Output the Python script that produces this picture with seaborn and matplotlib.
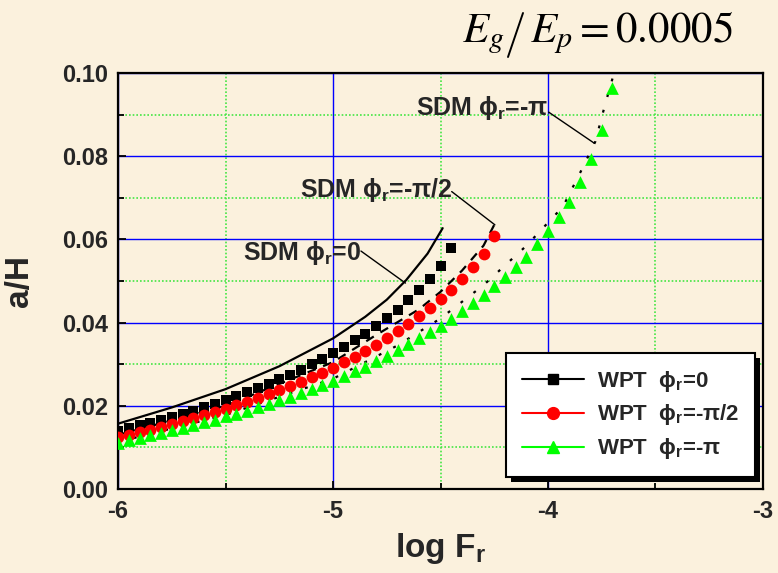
import matplotlib
matplotlib.use("Agg")
import matplotlib.pyplot as plt
import seaborn as sns
from matplotlib.lines import Line2D
from matplotlib.patches import Rectangle
from matplotlib.transforms import IdentityTransform
from matplotlib.ticker import MultipleLocator, FormatStrFormatter

# log Fr sampling shared by the WPT series (step 0.05)
log_fr = [-6.00, -5.95, -5.90, -5.85, -5.80, -5.75, -5.70, -5.65, -5.60, -5.55,
          -5.50, -5.45, -5.40, -5.35, -5.30, -5.25, -5.20, -5.15, -5.10, -5.05,
          -5.00, -4.95, -4.90, -4.85, -4.80, -4.75, -4.70, -4.65, -4.60, -4.55,
          -4.50, -4.45, -4.40, -4.35, -4.30, -4.25, -4.20, -4.15, -4.10, -4.05,
          -4.00, -3.95, -3.90, -3.85, -3.80, -3.75, -3.70]

# WPT results, a/H
wpt_phi0 = [0.0139, 0.0146, 0.0154, 0.0159, 0.0166, 0.0172, 0.0180, 0.0188, 0.0196, 0.0204,
            0.0213, 0.0224, 0.0232, 0.0242, 0.0252, 0.0264, 0.0275, 0.0287, 0.0300, 0.0313,
            0.0327, 0.0341, 0.0357, 0.0373, 0.0391, 0.0410, 0.0430, 0.0454, 0.0478, 0.0504,
            0.0537, 0.0580]
wpt_phi_half = [0.0126, 0.0131, 0.0138, 0.0143, 0.0150, 0.0156, 0.0163, 0.0171, 0.0179, 0.0185,
                0.0193, 0.0201, 0.0210, 0.0219, 0.0228, 0.0238, 0.0248, 0.0258, 0.0269, 0.0280,
                0.0292, 0.0305, 0.0318, 0.0332, 0.0347, 0.0363, 0.0379, 0.0397, 0.0415, 0.0434,
                0.0456, 0.0478, 0.0505, 0.0533, 0.0566, 0.0609]
wpt_phi_pi = [0.0111, 0.0118, 0.0123, 0.0129, 0.0135, 0.0141, 0.0147, 0.0153, 0.0160, 0.0167,
              0.0175, 0.0181, 0.0188, 0.0196, 0.0204, 0.0213, 0.0221, 0.0230, 0.0240, 0.0250,
              0.0260, 0.0272, 0.0283, 0.0294, 0.0307, 0.0320, 0.0334, 0.0348, 0.0362, 0.0377,
              0.0393, 0.0408, 0.0427, 0.0446, 0.0467, 0.0489, 0.0510, 0.0534, 0.0558, 0.0589,
              0.0620, 0.0653, 0.0691, 0.0737, 0.0793, 0.0863, 0.0965]

# SDM curves
sdm0_x = [-6.00, -5.75, -5.50, -5.25, -5.00, -4.85, -4.75, -4.66, -4.56, -4.49]
sdm0_y = [0.0157, 0.0196, 0.0240, 0.0295, 0.0362, 0.0414, 0.0455, 0.0502, 0.0566, 0.0627]
sdm_half_x = [-6.00, -5.50, -5.00, -4.80, -4.60, -4.50, -4.40, -4.30, -4.25]
sdm_half_y = [0.0130, 0.0200, 0.0305, 0.0370, 0.0432, 0.0474, 0.0525, 0.0585, 0.0635]
sdm_pi_x = [-6.00, -5.50, -5.00, -4.70, -4.50, -4.30, -4.10, -3.93, -3.84, -3.78, -3.735, -3.69]
sdm_pi_y = [0.0113, 0.0178, 0.0265, 0.0345, 0.0410, 0.0490, 0.0585, 0.0679, 0.0771, 0.0835, 0.0923, 0.1005]

BG = "#FBF1DD"
GREEN = "#00FF00"

sns.set_theme(style="white")
plt.rcParams["font.family"] = ["Liberation Sans", "DejaVu Sans"]
plt.rcParams["font.weight"] = "normal"
plt.rcParams["mathtext.fontset"] = "custom"
plt.rcParams["mathtext.rm"] = "Liberation Sans:bold"
plt.rcParams["mathtext.it"] = "Liberation Sans:bold"
plt.rcParams["mathtext.bf"] = "Liberation Sans:bold"
plt.rcParams["mathtext.sf"] = "Liberation Sans:bold"

fig = plt.figure(figsize=(7.78, 5.73), dpi=100, facecolor=BG)
ax = fig.add_axes([0.1517, 0.1466, 0.8290, 0.7260])
ax.set_facecolor(BG)

# SDM curves
sns.lineplot(x=sdm0_x, y=sdm0_y, color="black", lw=1.6, ax=ax, sort=False,
             estimator=None, zorder=2)
sns.lineplot(x=sdm_half_x, y=sdm_half_y, color="black", lw=1.6, ax=ax, sort=False,
             estimator=None, zorder=2, linestyle=(0, (4, 3.5)))
sns.lineplot(x=sdm_pi_x, y=sdm_pi_y, color="black", lw=1.6, ax=ax, sort=False,
             estimator=None, zorder=2, linestyle=(0, (1.3, 6)))

# WPT points
sns.scatterplot(x=log_fr[:len(wpt_phi0)], y=wpt_phi0, marker="s", color="black",
                s=58, linewidth=0, ax=ax, zorder=3)
sns.scatterplot(x=log_fr[:len(wpt_phi_half)], y=wpt_phi_half, marker="o", color="red",
                s=72, linewidth=0, ax=ax, zorder=3)
sns.scatterplot(x=log_fr[:len(wpt_phi_pi)], y=wpt_phi_pi, marker="^", color=GREEN,
                s=84, linewidth=0, ax=ax, zorder=3)

ax.set_xlim(-6, -3)
ax.set_ylim(0, 0.10)
ax.xaxis.set_major_locator(MultipleLocator(1))
ax.xaxis.set_minor_locator(MultipleLocator(0.5))
ax.yaxis.set_major_locator(MultipleLocator(0.02))
ax.yaxis.set_minor_locator(MultipleLocator(0.01))
ax.yaxis.set_major_formatter(FormatStrFormatter("%.2f"))
ax.xaxis.set_major_formatter(FormatStrFormatter("%d"))

ax.set_axisbelow(True)
ax.grid(which="major", color="blue", lw=1.0, ls="-")
ax.grid(which="minor", color="#44E644", lw=1.2, ls=(0, (1, 1.2)))

for sp in ax.spines.values():
    sp.set_color("black")
    sp.set_linewidth(1.6)

ax.tick_params(which="both", direction="in", bottom=True, left=True, top=False,
               right=False, color="black", width=1.3)
ax.tick_params(which="major", length=6)
ax.tick_params(which="minor", length=4.5)
ax.tick_params(axis="x", labelsize=17, pad=8)
ax.tick_params(axis="y", labelsize=17, pad=7)
fig.canvas.draw()
for lab in ax.get_xticklabels() + ax.get_yticklabels():
    lab.set_fontweight("bold")

ax.set_xlabel("log F$_r$", fontsize=24, fontweight="bold")
ax.set_ylabel("a/H", fontsize=24, fontweight="bold")
ax.xaxis.set_label_coords(0.5, -0.100)
ax.yaxis.set_label_coords(-0.128, 0.5)

# SDM labels with leader lines
ax.text(-5.421, 0.0551, r"SDM $\phi_r$=0", fontsize=18, fontweight="bold",
        ha="left", va="baseline")
ax.plot([-4.870, -4.663], [0.0572, 0.0495], color="black", lw=1.0)
ax.text(-5.153, 0.0703, r"SDM $\phi_r$=-$\pi$/2", fontsize=18, fontweight="bold",
        ha="left", va="baseline")
ax.plot([-4.448, -4.247], [0.0715, 0.0635], color="black", lw=1.0)
ax.text(-4.614, 0.0899, r"SDM $\phi_r$=-$\pi$", fontsize=18, fontweight="bold",
        ha="left", va="baseline")
ax.plot([-3.997, -3.784], [0.0906, 0.0831], color="black", lw=1.0)

# Ratio annotation: E_g / E_p = 0.0005 with a tall thin slash
title_kw = dict(math_fontfamily="stix", fontweight="normal", color="black")
fig.text(462 / 778, 1 - 42 / 573, r"$E_g$", fontsize=31, ha="left", va="baseline", **title_kw)
fig.add_artist(Line2D([508 / 778, 523 / 778], [1 - 57 / 573, 1 - 13 / 573],
                      transform=fig.transFigure, color="black", lw=1.4))
fig.text(530 / 778, 1 - 42 / 573, r"$E_p = \mathrm{0.0005}$", fontsize=31, ha="left",
         va="baseline", **title_kw)

handles = [
    Line2D([], [], color="black", lw=1.5, marker="s", ms=7.5),
    Line2D([], [], color="red", lw=1.5, marker="o", ms=8.5),
    Line2D([], [], color=GREEN, lw=1.5, marker="^", ms=9),
]
labels = [r"WPT  $\phi_r$=0", r"WPT  $\phi_r$=-$\pi$/2", r"WPT  $\phi_r$=-$\pi$"]
leg = ax.legend(handles, labels, loc="lower right", bbox_to_anchor=(0.988, 0.029),
                borderaxespad=0, prop={"size": 16, "weight": "bold"}, frameon=True,
                fancybox=False, framealpha=1, facecolor="white", edgecolor="black",
                numpoints=1, handlelength=2.8, handletextpad=0.6, borderpad=0.7,
                labelspacing=0.4)
leg.get_frame().set_linewidth(1.5)
leg.set_zorder(6)

fig.canvas.draw()
bb = leg.get_frame().get_window_extent()
ax.add_patch(Rectangle((bb.x0 + 5, bb.y0 - 5), bb.width, bb.height,
                       transform=IdentityTransform(), facecolor="black",
                       edgecolor="none", zorder=5.5, clip_on=False))

fig.savefig("out.png", dpi=100, facecolor=BG)
